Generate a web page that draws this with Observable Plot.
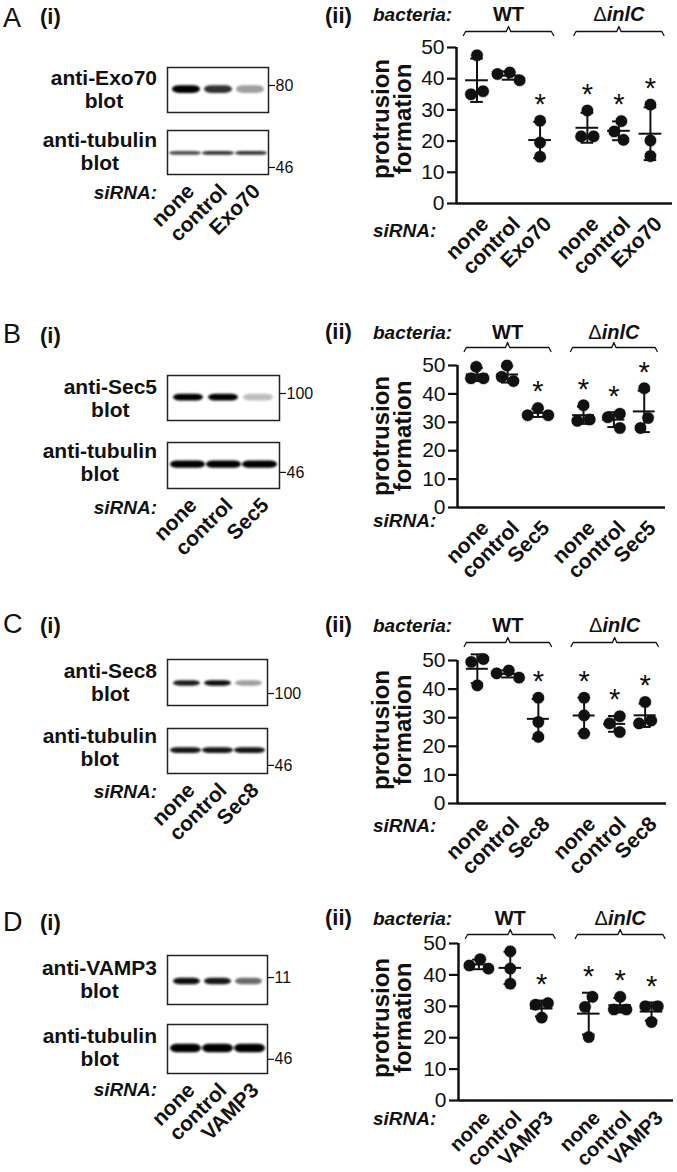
<!DOCTYPE html>
<html>
<head>
<meta charset="utf-8">
<script src="https://cdn.jsdelivr.net/npm/d3@7"></script>
<script src="https://cdn.jsdelivr.net/npm/@observablehq/plot@0.6"></script>
<style>
  body { margin: 0; background: #fff; }
  #fig { position: relative; width: 677px; height: 1172px; overflow: hidden; background: #fff;
         font-family: "Liberation Sans", Arial, Helvetica, sans-serif; color: #111; }
  .abs { position: absolute; white-space: nowrap; line-height: 1; }
  .letter { font-size: 27px; font-weight: 400; }
  .sub { font-size: 22px; font-weight: 700; }
  .blotlab { font-size: 21px; font-weight: 700; text-align: center; line-height: 23px; }
  .ital { font-size: 19px; font-weight: 700; font-style: italic; }
  .ylab { font-size: 24px; font-weight: 700; text-align: center; line-height: 22px; }
  .plotbox { position: absolute; }
  .rp [aria-label="y-axis tick"] path, .rp g[aria-label="y-axis"] line { stroke-width: 2.2px; }
  .bl [aria-label="y-axis tick"] path, .bl g[aria-label="y-axis"] line { stroke-width: 1.2px; }
</style>
</head>
<body>
<div id="fig"></div>
<svg width="0" height="0" style="position:absolute">
  <defs><filter id="bandBlur" x="-20%" y="-60%" width="140%" height="220%"><feGaussianBlur stdDeviation="0.9"/></filter></defs>
</svg>
<script>
// ---------------- data ----------------
const panelLetters = ["A", "B", "C", "D"];
const bacteria = ["WT", "ΔinlC"];
const siRNAs = [
  ["none", "control", "Exo70"],
  ["none", "control", "Sec5"],
  ["none", "control", "Sec8"],
  ["none", "control", "VAMP3"]
];
const blotAntibody = ["anti-Exo70", "anti-Sec5", "anti-Sec8", "anti-VAMP3"];
const loadingAntibody = "anti-tubulin";
const markerTargetKDa = ["80", "100", "100", "11"];
const markerTubulinKDa = ["46", "46", "46", "46"];
// relative migration within each blot strip (0 = top, 1 = bottom)
const markerTargetPos = [0.40, 0.40, 0.74, 0.45];
const markerTubulinPos = [0.84, 0.65, 0.82, 0.71];
const bandTargetPos = [0.49, 0.49, 0.52, 0.53];
const bandTubulinPos = [0.52, 0.48, 0.49, 0.49];
// band intensity per lane (none, control, knockdown)
const bandTargetIntensity = [[1.0, 0.82, 0.38], [1.0, 1.0, 0.25], [0.88, 0.95, 0.38], [0.95, 0.92, 0.6]];
const bandTubulinIntensity = [[0.72, 0.82, 0.82], [1.0, 1.0, 1.0], [0.92, 0.92, 0.92], [1.0, 1.0, 1.0]];

// protrusion formation, 3 replicates per group
// groups: WT none, WT control, WT knockdown, ΔinlC none, ΔinlC control, ΔinlC knockdown
const protrusionA = [[47.5, 35, 36], [42, 41.5, 39.5], [26.5, 19.5, 15], [29.8, 21.5, 21.5], [26.4, 23.1, 20.4], [31.7, 20.2, 15.2]];
const protrusionB = [[49.5, 45.5, 45.5], [50, 46, 44.5], [35, 32.5, 32.5], [36, 31, 30.5], [33, 31.8, 28], [42, 31.5, 28]];
const protrusionC = [[50.5, 49.5, 41.3], [46.5, 45.5, 44], [37, 28.5, 23.3], [37, 30.8, 24.5], [30.5, 28, 25], [35.5, 28, 29]];
const protrusionD = [[45, 42, 43], [47.5, 42, 37.2], [31, 30.5, 26.4], [33, 29.8, 20.2], [33, 29, 29], [30, 30, 25]];
const protrusion = [protrusionA, protrusionB, protrusionC, protrusionD];
const significant = [false, false, true, true, true, true];
const yTicks = [0, 10, 20, 30, 40, 50];

// ---------------- layout (page pixels) ----------------
const layout = [
  {letterY: 18, subY: 17, iiY: 16, blotW: 101, blot1: [67, 112], blot2: [130, 174], lab1: 88.5, lab2: 151, si1: 192,
   axisX: 456, xEnd: 672, y50: 47, y0: 203, headY: 14, bracketY: 31, ylabY: 119, si2: 230, thick: [0.085, 0.045], xlab: [21, 17]},
  {letterY: 334, subY: 336, iiY: 332, blotW: 112, blot1: [375, 420], blot2: [442, 488], lab1: 397.5, lab2: 461.5, si1: 507,
   axisX: 457, xEnd: 665, y50: 365, y0: 507, headY: 332, bracketY: 347, ylabY: 436, si2: 520, thick: [0.075, 0.08], xlab: [21, 17]},
  {letterY: 624, subY: 626, iiY: 625, blotW: 100, blot1: [659, 705], blot2: [728, 773], lab1: 681.5, lab2: 747, si1: 791,
   axisX: 457, xEnd: 666, y50: 660, y0: 803, headY: 625, bracketY: 642, ylabY: 730, si2: 825, thick: [0.06, 0.065], xlab: [21, 17]},
  {letterY: 922, subY: 923, iiY: 918, blotW: 100, blot1: [955, 1004], blot2: [1024, 1073], lab1: 979, lab2: 1046.5, si1: 1089,
   axisX: 458, xEnd: 673, y50: 943, y0: 1100, headY: 918, bracketY: 934, ylabY: 1018, si2: 1118, thick: [0.065, 0.085], xlab: [20, 14]}
];
const BLOT_X = 167;
const XDOM = [-0.65, 6.2];
const FONT = '"Liberation Sans", Arial, Helvetica, sans-serif';

const fig = document.getElementById("fig");

function label(text, x, y, cls, align, html) {
  const el = document.createElement("div");
  el.className = "abs " + cls;
  if (html) el.innerHTML = text; else el.textContent = text;
  el.style.left = x + "px";
  el.style.top = y + "px";
  const tx = align === "center" ? "-50%" : align === "right" ? "-100%" : "0";
  el.style.transform = `translate(${tx}, -50%)`;
  fig.appendChild(el);
  return el;
}

function place(svg, left, top, cls) {
  const box = document.createElement("div");
  box.className = "plotbox " + cls;
  box.style.left = left + "px";
  box.style.top = top + "px";
  box.appendChild(svg);
  fig.appendChild(box);
}

// beeswarm-like dodge (pixels), centered per overlapping cluster
function dodge(values, pyu, d) {
  const n = values.length;
  const order = d3.range(n).sort((a, b) => values[b] - values[a]);
  const off = new Array(n).fill(0);
  const placed = [];
  for (const i of order) {
    const yi = values[i] * pyu;
    const cands = [0];
    for (const p of placed) {
      const dy = Math.abs(yi - p.y);
      if (dy < d) { const dx = Math.sqrt(d * d - dy * dy); cands.push(p.x - dx, p.x + dx); }
    }
    cands.sort((a, b) => Math.abs(a) - Math.abs(b));
    const best = cands.find(c => placed.every(p => Math.hypot(c - p.x, yi - p.y) >= d - 0.01));
    off[i] = best;
    placed.push({i, x: best, y: yi});
  }
  const comp = d3.range(n);
  const find = a => comp[a] === a ? a : (comp[a] = find(comp[a]));
  for (let a = 0; a < n; a++) for (let b = a + 1; b < n; b++)
    if (Math.abs(values[a] - values[b]) * pyu < d) comp[find(a)] = find(b);
  const groups = d3.group(d3.range(n), find);
  for (const [, idx] of groups) {
    const ext = d3.extent(idx, k => off[k]);
    const shift = (ext[0] + ext[1]) / 2;
    idx.forEach(k => off[k] -= shift);
  }
  return off;
}

function blot(lanes, intensity, bandPos, markerPos, markerLabel, thick, pad, top, w, h, withLanes) {
  const data = lanes.map((lane, i) => ({lane, v: intensity[i]}));
  const svg = Plot.plot({
    width: w + 40, height: h,
    marginLeft: 0, marginRight: 40, marginTop: 0, marginBottom: 0,
    style: {fontFamily: FONT, fontSize: "16px", color: "#111", background: "transparent", overflow: "visible"},
    x: {type: "band", domain: lanes, padding: pad, axis: null},
    y: {domain: [0, 1], reverse: true, axis: "right", ticks: [markerPos], tickFormat: () => markerLabel,
        tickSize: 6, tickPadding: 1, label: null},
    marks: [
      Plot.barY(data, {x: "lane", y1: () => bandPos - thick, y2: () => bandPos + thick,
                       fill: d => d3.interpolateGreys(0.15 + 0.85 * d.v), rx: 7}),
      Plot.frame({stroke: "#222", strokeWidth: 1.5}),
      withLanes ? Plot.text(lanes, {x: d => d, frameAnchor: "bottom", text: d => d, rotate: -45,
                                    textAnchor: "end", dx: 10, dy: 18, fontSize: 21, fontWeight: "bold"}) : null
    ]
  });
  const g = svg.querySelector('g[aria-label="bar"]');
  if (g) g.setAttribute("filter", "url(#bandBlur)");
  place(svg, BLOT_X, top, "bl");
}

function dotPlot(p) {
  const L = layout[p];
  const vals = protrusion[p];
  const pyu = (L.y0 - L.y50) / 50;
  const pxu = (L.xEnd - L.axisX) / (XDOM[1] - XDOM[0]);
  const groups = [];
  bacteria.forEach((b, g) => siRNAs[p].forEach((s, i) => {
    const k = g * 3 + i;
    groups.push({bac: b, sirna: s, pos: g * 3.5 + i, values: vals[k], sig: significant[k]});
  }));
  const stats = groups.map(d => {
    const mean = d3.mean(d.values), sd = d3.deviation(d.values);
    return {...d, mean, sd, lo: mean - sd, hi: mean + sd, top: Math.max(mean + sd, d3.max(d.values))};
  });
  const points = groups.flatMap(d => {
    const off = dodge(d.values, pyu, 12.5);
    return d.values.map((v, j) => ({x: d.pos + off[j] / pxu, value: v}));
  });
  const yb = 50 + (L.y50 - L.bracketY) / pyu;
  const tEnd = 4 / pyu, tMid = 5 / pyu;
  const yl = 50 + (L.y50 - L.headY) / pyu;
  const brackets = bacteria.map((b, g) => {
    const first = g * 3.5, last = g * 3.5 + 2;
    return {bac: b, x1: first - 0.43, x2: last + 0.43, mid: (first + last) / 2};
  });
  const bracketPts = brackets.flatMap(b => [
    {bac: b.bac, x: b.x1, y: yb - tEnd},
    {bac: b.bac, x: b.x1 + 0.07, y: yb},
    {bac: b.bac, x: b.mid - 0.07, y: yb},
    {bac: b.bac, x: b.mid, y: yb + tMid},
    {bac: b.bac, x: b.mid + 0.07, y: yb},
    {bac: b.bac, x: b.x2 - 0.07, y: yb},
    {bac: b.bac, x: b.x2, y: yb - tEnd}
  ]);
  const left = 400, top = L.y50 - 60;
  const height = Math.min(1172, L.y0 + 72) - top;
  const svg = Plot.plot({
    width: 677 - left, height,
    marginLeft: L.axisX - left, marginRight: 677 - L.xEnd, marginTop: 60, marginBottom: height - (L.y0 - top),
    style: {fontFamily: FONT, fontSize: "21px", color: "#111", background: "transparent", overflow: "visible"},
    x: {domain: XDOM, axis: null},
    y: {domain: [0, 50], ticks: yTicks, tickSize: 9, tickPadding: 3, label: null, tickFormat: d3.format("d")},
    marks: [
      Plot.ruleY([0], {strokeWidth: 2.5, stroke: "#111"}),
      Plot.ruleX([XDOM[0]], {y1: 0, y2: 50, strokeWidth: 2.5, stroke: "#111"}),
      Plot.dot(points, {x: "x", y: "value", r: 6.3, fill: "#111", stroke: "#fff", strokeWidth: 0.7}),
      Plot.ruleX(stats, {x: "pos", y1: "lo", y2: "hi", strokeWidth: 2, stroke: "#111"}),
      Plot.ruleY(stats, {y: "mean", x1: d => d.pos - 0.36, x2: d => d.pos + 0.36, strokeWidth: 2, stroke: "#111"}),
      Plot.ruleY(stats, {y: "hi", x1: d => d.pos - 0.2, x2: d => d.pos + 0.2, strokeWidth: 2, stroke: "#111"}),
      Plot.ruleY(stats, {y: "lo", x1: d => d.pos - 0.2, x2: d => d.pos + 0.2, strokeWidth: 2, stroke: "#111"}),
      Plot.text(stats.filter(d => d.sig), {x: "pos", y: "top", text: () => "*", fontSize: 29, dy: -16}),
      Plot.text(stats, {x: "pos", y: () => 0, text: "sirna", rotate: -45, textAnchor: "end",
                        dx: 8, dy: L.xlab[1], fontSize: L.xlab[0], fontWeight: "bold"}),
      Plot.line(bracketPts, {x: "x", y: "y", z: "bac", stroke: "#111", strokeWidth: 1.3}),
      Plot.text(brackets, {x: "mid", y: () => yl, text: "bac", fontSize: 20, fontWeight: "bold"})
    ]
  });
  const ns = "http://www.w3.org/2000/svg";
  svg.querySelectorAll("text").forEach(t => {
    if (t.textContent === "ΔinlC") {
      t.textContent = "";
      const a = document.createElementNS(ns, "tspan");
      a.setAttribute("font-weight", "normal"); a.textContent = "Δ";
      const b = document.createElementNS(ns, "tspan");
      b.setAttribute("font-style", "italic"); b.textContent = "inlC";
      t.appendChild(a); t.appendChild(b);
    }
  });
  place(svg, left, top, "rp");
}

panelLetters.forEach((letter, p) => {
  const L = layout[p];
  const lanes = siRNAs[p];
  // (i) western blots
  blot(lanes, bandTargetIntensity[p], bandTargetPos[p], markerTargetPos[p], markerTargetKDa[p],
       L.thick[0], 0.14, L.blot1[0], L.blotW, L.blot1[1] - L.blot1[0], false);
  blot(lanes, bandTubulinIntensity[p], bandTubulinPos[p], markerTubulinPos[p], markerTubulinKDa[p],
       L.thick[1], 0.04, L.blot2[0], L.blotW, L.blot2[1] - L.blot2[0], true);
  // (ii) protrusion dot plot
  dotPlot(p);
  // text labels
  label(letter, 3, L.letterY, "letter", "left");
  label("(i)", 40, L.subY, "sub", "left");
  label("(ii)", 325, L.iiY, "sub", "left");
  label(blotAntibody[p] + "<br>blot", 157, L.lab1, "blotlab", "right", true);
  label(loadingAntibody + "<br>blot", 157, L.lab2, "blotlab", "right", true);
  label("siRNA:", 157, L.si1, "ital", "right");
  label("bacteria:", 373, L.headY, "ital", "left");
  label("siRNA:", 373, L.si2, "ital", "left");
  const yl = label("protrusion<br>formation", 392, L.ylabY, "ylab", "left", true);
  yl.style.transform = "translate(-50%, -50%) rotate(-90deg)";
});
</script>
</body>
</html>
